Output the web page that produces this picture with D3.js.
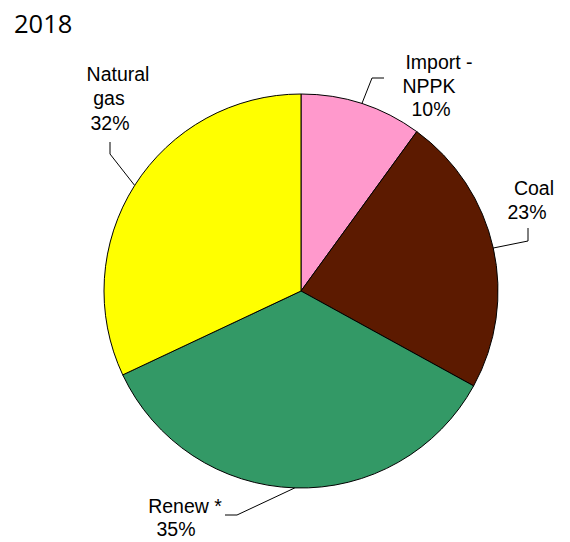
<!DOCTYPE html>
<html>
<head>
<meta charset="utf-8">
<script src="https://cdn.jsdelivr.net/npm/d3@7"></script>
<style>
  html, body { margin: 0; padding: 0; background: #fff; }
  svg { display: block; }
</style>
</head>
<body>
<script>
// ---- data ----
const title = "2018";
const categories = ["Import - NPPK", "Coal", "Renew *", "Natural gas"];
const values = [10, 23, 35, 32];
const labelLines = [["Import -", "NPPK", "10%"], ["Coal", "23%"], ["Renew *", "35%"], ["Natural", "gas", "32%"]];
const colors = ["#FF99CC", "#5C1A00", "#339966", "#FFFF00"];

// ---- layout (label placement, leader elbows) ----
const W = 570, H = 542;
const cx = 301, cy = 291, R = 197;
const labelLayout = [
  { lines: [{x: 439, y: 69}, {x: 429, y: 93}, {x: 431, y: 116}], elbow: [372, 78], end: [384, 78] },
  { lines: [{x: 534, y: 195}, {x: 527, y: 219}], elbow: [528, 241], end: [528, 228] },
  { lines: [{x: 185, y: 513}, {x: 176, y: 536}], elbow: [237, 515], end: [225, 515] },
  { lines: [{x: 118, y: 81}, {x: 109, y: 105}, {x: 110, y: 130}], elbow: [110, 154], end: [110, 142] }
];

const svg = d3.select("body").append("svg").attr("width", W).attr("height", H);

svg.append("text")
  .attr("x", 14).attr("y", 33)
  .attr("font-family", "'Open Sans', sans-serif")
  .attr("font-size", 25.5)
  .attr("fill", "#000")
  .text(title);

const pie = d3.pie().sort(null).value(d => d)(values);
const arc = d3.arc().innerRadius(0).outerRadius(R);

const g = svg.append("g").attr("transform", `translate(${cx},${cy})`);
g.selectAll("path.slice").data(pie).join("path")
  .attr("class", "slice")
  .attr("d", arc)
  .attr("fill", (d, i) => colors[i])
  .attr("stroke", "#000")
  .attr("stroke-width", 1);

// leader lines
pie.forEach((d, i) => {
  const a = (d.startAngle + d.endAngle) / 2;
  const px = cx + R * Math.sin(a), py = cy - R * Math.cos(a);
  const L = labelLayout[i];
  svg.append("polyline")
    .attr("points", `${px},${py} ${L.elbow[0]},${L.elbow[1]} ${L.end[0]},${L.end[1]}`)
    .attr("fill", "none")
    .attr("stroke", "#000")
    .attr("stroke-width", 1);
  labelLines[i].forEach((t, j) => {
    svg.append("text")
      .attr("x", L.lines[j].x).attr("y", L.lines[j].y)
      .attr("text-anchor", "middle")
      .attr("font-family", "'Liberation Sans', Arial, sans-serif")
      .attr("font-size", 19.5)
      .attr("fill", "#000")
      .text(t);
  });
});
</script>
</body>
</html>
